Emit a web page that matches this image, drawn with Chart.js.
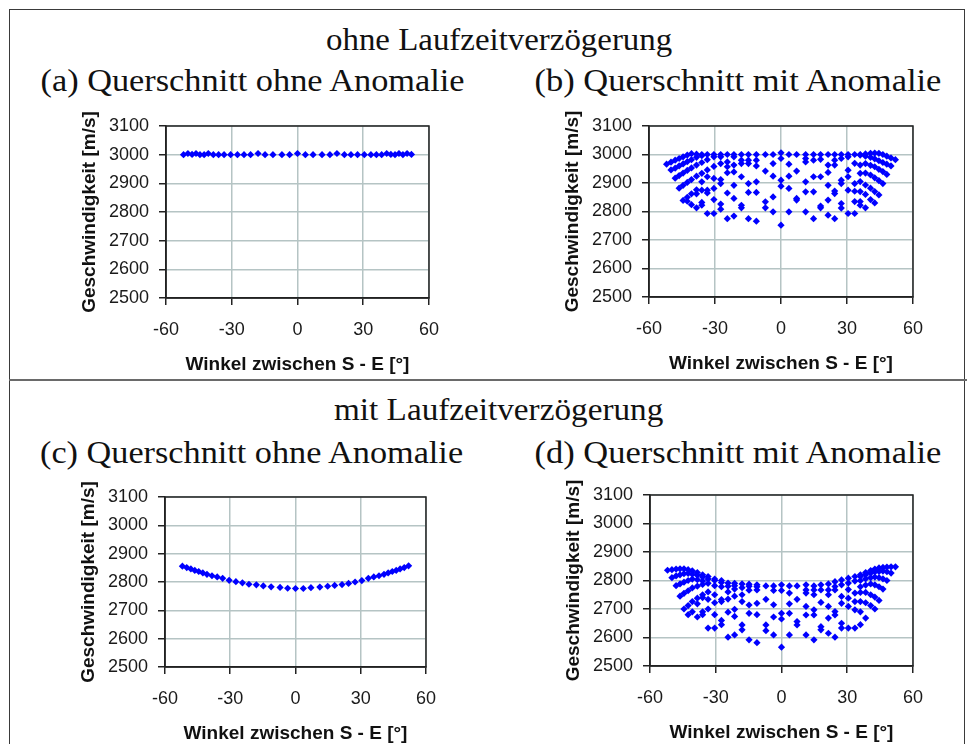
<!DOCTYPE html>
<html>
<head>
<meta charset="utf-8">
<script src="https://cdn.jsdelivr.net/npm/chart.js@4.4.1/dist/chart.umd.min.js"></script>
<style>
  html, body { margin: 0; padding: 0; background: #fff; width: 967px; height: 744px; overflow: hidden; position: relative; }
  .frame { position: absolute; left: 9px; top: 9px; width: 956px; height: 800px; border: 1.5px solid #3a3a3a; box-sizing: border-box; }
  .sep { position: absolute; left: 9px; top: 379px; width: 958px; height: 0; border-top: 2px solid #6a6a6a; }
  .ttl { position: absolute; font-family: "Liberation Serif", serif; font-size: 31px; line-height: 31px; white-space: nowrap; color: #111; transform-origin: center; }
  canvas { position: absolute; }
</style>
</head>
<body>
<div class="frame"></div>
<div class="sep"></div>

<div class="ttl" data-cx="499" data-base="50" data-w="346">ohne Laufzeitverzögerung</div>
<div class="ttl" data-cx="252" data-base="91" data-w="424">(a) Querschnitt ohne Anomalie</div>
<div class="ttl" data-cx="737.5" data-base="91" data-w="407">(b) Querschnitt mit Anomalie</div>
<div class="ttl" data-cx="498.5" data-base="420" data-w="329">mit Laufzeitverzögerung</div>
<div class="ttl" data-cx="251.5" data-base="463" data-w="423">(c) Querschnitt ohne Anomalie</div>
<div class="ttl" data-cx="737.5" data-base="463" data-w="407">(d) Querschnitt mit Anomalie</div>

<canvas id="chartA"></canvas>
<canvas id="chartB"></canvas>
<canvas id="chartC"></canvas>
<canvas id="chartD"></canvas>

<script>
// Angle between source and receiver [°], one entry per ray group
const angles = [-52, -50, -48.1, -46.3, -44.5, -42.6, -40.7, -38.4, -36, -33.5, -30.5, -27.4, -24.4, -21.4, -18, -14.8, -11.2, -7.1, -3.6, 0,
                3.6, 7.1, 11.2, 14.8, 18, 21.4, 24.4, 27.4, 30.5, 33.5, 36, 38.4, 40.7, 42.6, 44.5, 46.3, 48.1, 50, 52];

// Axis ticks
const xTicks = [-60, -30, 0, 30, 60];
const yTicks = [2500, 2600, 2700, 2800, 2900, 3000, 3100];

// (a) homogeneous section, no delay [m/s]
const speedA = [3000, 3004, 3001, 3004, 3000, 3000, 3004, 3000, 3000, 3000, 3000, 3000, 3000, 3000, 3004, 3000, 3000, 3000, 3000, 3004,
                3000, 3000, 3000, 3000, 3004, 3000, 3000, 3000, 3000, 3000, 3000, 3000, 3004, 3001, 3000, 3004, 3000, 3004, 3001];

// (c) homogeneous section, with delay [m/s]
const speedC = [2856, 2851, 2846, 2841, 2837, 2832, 2827, 2822, 2818, 2813, 2806, 2801, 2797, 2792, 2790, 2786, 2783, 2781, 2778, 2777,
                2777, 2780, 2782, 2785, 2788, 2791, 2795, 2800, 2805, 2813, 2818, 2822, 2827, 2832, 2837, 2841, 2846, 2851, 2857];

// (b) section with anomaly, no delay: apparent speeds per angle group [m/s]
const speedB = [
  [2966],
  [2973, 2946],
  [2980, 2952, 2917],
  [2986, 2960, 2926, 2882],
  [2992, 2967, 2935, 2892, 2839],
  [2998, 2975, 2944, 2902, 2850, 2836],
  [3003, 2982, 2953, 2912, 2862, 2824],
  [3001, 2990, 2963, 2924, 2876, 2862, 2813],
  [3000, 2996, 2972, 2934, 2904, 2875, 2832, 2822],
  [3000, 2982, 2946, 2922, 2875, 2865, 2793],
  [3000, 2992, 2958, 2916, 2881, 2842, 2793],
  [3000, 2992, 2968, 2912, 2898, 2826, 2808],
  [3000, 2974, 2957, 2936, 2865, 2775],
  [3000, 2992, 2963, 2939, 2892, 2846, 2784],
  [3000, 2980, 2968, 2922, 2822, 2813],
  [3000, 2980, 2968, 2898, 2867, 2775],
  [3000, 2980, 2960, 2904, 2867, 2766],
  [3000, 2942, 2834, 2813],
  [3000, 2968, 2924, 2851, 2799],
  [3006, 2986, 2910, 2889, 2752],
  [3000, 2966, 2924, 2881, 2799],
  [3000, 2942, 2846, 2840],
  [3000, 2986, 2974, 2904, 2869, 2799],
  [3000, 2980, 2922, 2869, 2775],
  [3000, 2983, 2922, 2819, 2813],
  [3000, 2963, 2937, 2892, 2840, 2787],
  [3000, 2980, 2963, 2872, 2863, 2775],
  [3000, 2986, 2910, 2898, 2828, 2812],
  [3000, 2992, 2945, 2922, 2875, 2793],
  [3000, 2969, 2898, 2871, 2835, 2793],
  [3000, 2998, 2963, 2934, 2905, 2870, 2835, 2822],
  [3002, 2994, 2968, 2935, 2893, 2860, 2813],
  [3004, 2990, 2962, 2928, 2882, 2842],
  [3005, 2985, 2957, 2918, 2870, 2830],
  [3004, 2978, 2948, 2908, 2858],
  [3000, 2972, 2940, 2898],
  [2994, 2966, 2930],
  [2988, 2960],
  [2982]
];

// (d) section with anomaly, with delay: apparent speeds per angle group [m/s]
const speedD = [
  [2836],
  [2838, 2810],
  [2840, 2816, 2782],
  [2841, 2820, 2788, 2745],
  [2841, 2824, 2794, 2755, 2700],
  [2838, 2825, 2800, 2764, 2712, 2680],
  [2834, 2822, 2805, 2774, 2726, 2690],
  [2828, 2818, 2803, 2780, 2738, 2718, 2672],
  [2820, 2812, 2798, 2786, 2750, 2740, 2690, 2680],
  [2814, 2805, 2790, 2760, 2734, 2700, 2633],
  [2805, 2800, 2782, 2750, 2722, 2680, 2633],
  [2800, 2793, 2778, 2733, 2726, 2660, 2645],
  [2791, 2780, 2760, 2735, 2689, 2601],
  [2790, 2782, 2770, 2745, 2699, 2674, 2609],
  [2788, 2775, 2750, 2726, 2644, 2627],
  [2787, 2780, 2766, 2714, 2685, 2592],
  [2785, 2778, 2767, 2720, 2680, 2582],
  [2781, 2734, 2644, 2624],
  [2781, 2765, 2715, 2672, 2609],
  [2785, 2765, 2685, 2665, 2566],
  [2781, 2756, 2718, 2685, 2609],
  [2781, 2734, 2656, 2644],
  [2785, 2767, 2756, 2709, 2679, 2609],
  [2781, 2767, 2750, 2697, 2679, 2592],
  [2785, 2767, 2723, 2638, 2627],
  [2788, 2767, 2750, 2709, 2668, 2615],
  [2796, 2779, 2767, 2691, 2679, 2601],
  [2802, 2785, 2744, 2720, 2650, 2633],
  [2808, 2791, 2768, 2738, 2709, 2633],
  [2814, 2798, 2756, 2726, 2697, 2633],
  [2820, 2814, 2800, 2778, 2758, 2726, 2690, 2645],
  [2828, 2820, 2806, 2784, 2758, 2722, 2668],
  [2835, 2826, 2810, 2788, 2750, 2712],
  [2840, 2830, 2812, 2785, 2742, 2700],
  [2844, 2832, 2810, 2778, 2730],
  [2846, 2833, 2806, 2770],
  [2847, 2831, 2800],
  [2848, 2826],
  [2848]
];

// Section headings: centre and stretch to the set width
document.querySelectorAll('.ttl').forEach(el => {
  const w = el.offsetWidth;
  el.style.left = (+el.dataset.cx - w / 2) + 'px';
  el.style.top = (+el.dataset.base - 26) + 'px';
  el.style.transform = 'scaleX(' + (+el.dataset.w / w) + ')';
});

const pairs = (xs, ys) => xs.map((x, i) => ({ x: x, y: ys[i] }));
const groups = (xs, cols) => {
  const out = [];
  cols.forEach((col, i) => col.forEach(v => out.push({ x: xs[i], y: v })));
  return out;
};

// Dark box around the plot area
const plotFrame = {
  id: 'plotFrame',
  beforeDatasetsDraw(chart) {
    const { ctx, chartArea: a } = chart;
    ctx.save();
    ctx.strokeStyle = '#222';
    ctx.lineWidth = 1.5;
    ctx.strokeRect(a.left, a.top, a.right - a.left, a.bottom - a.top);
    ctx.restore();
  }
};

const SANS = '"Liberation Sans", Arial, sans-serif';
const Y_W = 96, X_H = 82, PAD_T = 22, PAD_R = 22;

function panel(id, area, points) {
  const cv = document.getElementById(id);
  const W = area.r - area.l + Y_W + PAD_R;
  const H = area.b - area.t + PAD_T + X_H;
  cv.style.left = (area.l - Y_W) + 'px';
  cv.style.top = (area.t - PAD_T) + 'px';
  cv.width = W; cv.height = H;
  cv.style.width = W + 'px'; cv.style.height = H + 'px';

  const gridOpts = { color: '#b5c4c4', lineWidth: 1.5, tickLength: 7, tickColor: '#222', drawTicks: true };
  const borderOpts = { color: '#222', width: 1.5 };

  new Chart(cv, {
    type: 'scatter',
    data: {
      datasets: [{
        data: points,
        pointStyle: 'rectRot',
        pointRadius: 3.6,
        pointBackgroundColor: '#0000ff',
        pointBorderColor: '#0000ff',
        pointBorderWidth: 0,
        showLine: false
      }]
    },
    options: {
      responsive: false,
      animation: false,
      devicePixelRatio: 1,
      layout: { padding: { left: 0, top: PAD_T, right: PAD_R, bottom: 0 } },
      plugins: { legend: { display: false }, tooltip: { enabled: false } },
      scales: {
        x: {
          type: 'linear', min: -60, max: 60,
          afterBuildTicks: s => { s.ticks = xTicks.map(v => ({ value: v })); },
          afterFit: s => { s.height = X_H; },
          grid: gridOpts,
          border: borderOpts,
          ticks: { font: { family: SANS, size: 18 }, color: '#1a1a1a', padding: 14, maxRotation: 0,
                   callback: v => String(v) },
          title: { display: true, text: 'Winkel zwischen S - E [°]', color: '#111',
                   font: { family: SANS, size: 19, weight: 'bold' }, padding: { top: 0, bottom: 4 } }
        },
        y: {
          type: 'linear', min: 2500, max: 3100,
          afterBuildTicks: s => { s.ticks = yTicks.map(v => ({ value: v })); },
          afterFit: s => { s.width = Y_W; },
          grid: gridOpts,
          border: borderOpts,
          ticks: { font: { family: SANS, size: 18 }, color: '#1a1a1a', padding: 10,
                   callback: v => String(v) },
          title: { display: true, text: 'Geschwindigkeit [m/s]', color: '#111',
                   font: { family: SANS, size: 19, weight: 'bold' }, padding: { top: 8, bottom: 0 } }
        }
      }
    },
    plugins: [plotFrame]
  });
}

panel('chartA', { l: 166, t: 126, r: 431, b: 298 }, pairs(angles, speedA));
panel('chartB', { l: 649, t: 126, r: 915, b: 297 }, groups(angles, speedB));
panel('chartC', { l: 165, t: 497, r: 428, b: 667 }, pairs(angles, speedC));
panel('chartD', { l: 650, t: 495, r: 915, b: 666 }, groups(angles, speedD));
</script>
</body>
</html>
